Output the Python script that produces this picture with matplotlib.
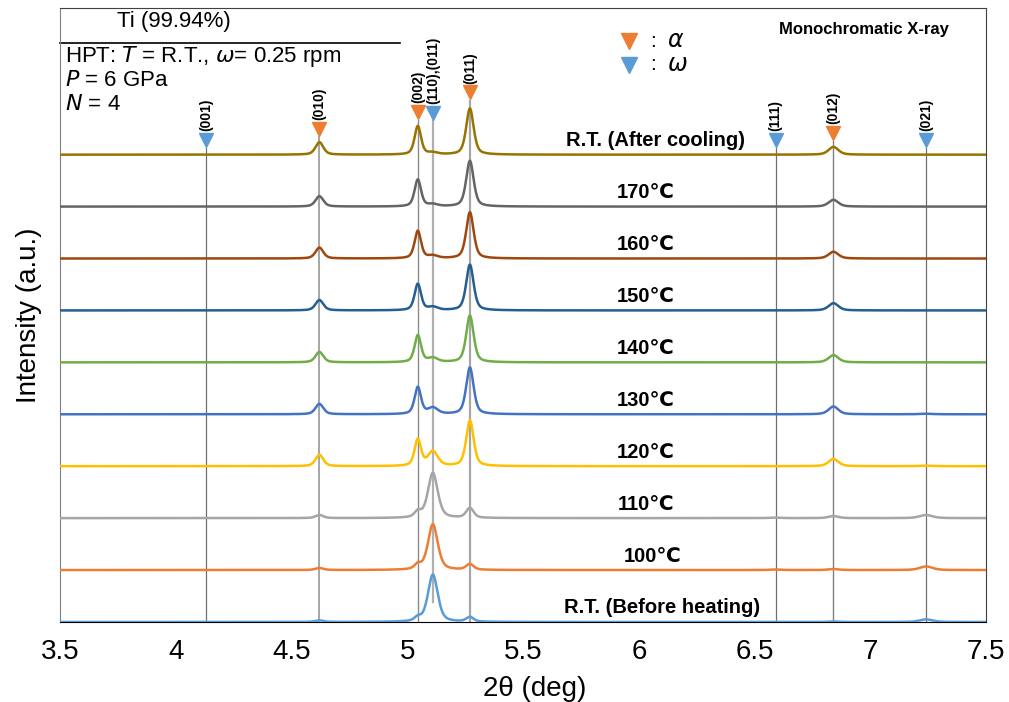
import numpy as np
import matplotlib
matplotlib.use("Agg")
import matplotlib.pyplot as plt

plt.rcParams['font.family'] = ['Liberation Sans', 'DejaVu Sans']

# Reflection positions (2theta, deg)
refl_labels = ["(001)", "(010)", "(002)", "(110),(011)", "(011)", "(111)", "(012)", "(021)"]
refl_pos = [4.13, 4.62, 5.045, 5.11, 5.27, 6.59, 6.84, 7.24]
refl_phase = ["w", "a", "a", "w", "a", "w", "a", "w"]
refl_fwhm = [0.045, 0.04, 0.033, 0.05, 0.038, 0.055, 0.05, 0.065]

# Curves from bottom to top
curve_names = ["R.T. (Before heating)", "100℃", "110℃", "120℃", "130℃",
               "140℃", "150℃", "160℃", "170℃", "R.T. (After cooling)"]
curve_colors = ["#5B9BD5", "#ED7D31", "#A5A5A5", "#FFC000", "#4472C4",
                "#70AD47", "#255E91", "#9E480E", "#646464", "#997300"]

# Peak heights per curve (fraction of curve spacing), same order as refl_pos
h_rt_before = [0, 0.03, 0.07, 0.91, 0.09, 0.0, 0.01, 0.05]
h_100 = [0, 0.04, 0.09, 0.88, 0.11, 0.01, 0.02, 0.07]
h_110 = [0, 0.06, 0.11, 0.87, 0.19, 0.01, 0.04, 0.06]
h_120 = [0, 0.22, 0.51, 0.28, 0.88, 0.0, 0.14, 0.01]
h_130 = [0, 0.20, 0.52, 0.12, 0.90, 0.0, 0.15, 0.01]
h_140 = [0, 0.20, 0.52, 0.08, 0.90, 0.0, 0.14, 0.0]
h_150 = [0, 0.20, 0.51, 0.06, 0.88, 0.0, 0.14, 0.0]
h_160 = [0, 0.21, 0.53, 0.05, 0.89, 0.0, 0.13, 0.0]
h_170 = [0, 0.20, 0.52, 0.04, 0.88, 0.0, 0.13, 0.0]
h_rt_after = [0, 0.24, 0.55, 0.035, 0.89, 0.0, 0.15, 0.0]
heights = [h_rt_before, h_100, h_110, h_120, h_130, h_140, h_150, h_160, h_170, h_rt_after]

# marker (triangle) heights above the plot, in curve-spacing units
marker_y = [9.28, 9.5, 9.83, 9.8, 10.2, 9.28, 9.42, 9.28]


def profile(x, pos, fwhm, h, eta=0.5):
    # pseudo-Voigt peak
    g = np.exp(-4 * np.log(2) * ((x - pos) / fwhm) ** 2)
    l = 1 / (1 + 4 * ((x - pos) / fwhm) ** 2)
    return h * (eta * l + (1 - eta) * g)


x = np.linspace(3.5, 7.5, 4000)

fig = plt.figure(figsize=(10.09, 7.02), dpi=100)
ax = fig.add_axes([0.0595, 0.114, 0.918, 0.875])

# vertical reference lines
line_cols = ["#707070", "#a6a6a6", "#8a8a8a", "#b0b0b0", "#a6a6a6", "#707070", "#808080", "#707070"]
line_lw = [0.9, 1.4, 1.0, 1.6, 1.6, 0.9, 1.0, 0.9]
line_bottom = [0, 0, 0, 0.38, 0, 0, 0, 0]
for p, my, c, lw, yb in zip(refl_pos, marker_y, line_cols, line_lw, line_bottom):
    ax.plot([p, p], [yb, my - 0.16], color=c, lw=lw, zorder=1)

for i, (name, col, h) in enumerate(zip(curve_names, curve_colors, heights)):
    y = np.full_like(x, float(i))
    for p, w, hh in zip(refl_pos, refl_fwhm, h):
        y += profile(x, p, w, hh)
    ax.plot(x, y, color=col, lw=1.8, zorder=3)

# curve labels
lab_x = [6.1, 6.06, 6.03, 6.03, 6.03, 6.03, 6.03, 6.03, 6.03, 6.07]
for i, name in enumerate(curve_names):
    ax.text(lab_x[i], i + 0.27, name, ha="center", va="center",
            fontsize=14.5, fontweight="bold", zorder=4)

# reflection markers and labels
for p, my, lab, ph in zip(refl_pos, marker_y, refl_labels, refl_phase):
    c = "#ED7D31" if ph == "a" else "#5B9BD5"
    ax.plot(p, my, marker="v", color=c, markersize=10, zorder=5, ls="none")
    ax.text(p, my + 0.17, lab, rotation=90, ha="center", va="bottom",
            fontsize=10, fontweight="bold", zorder=5)

# legend
ax.plot(5.956, 11.18, marker="v", color="#ED7D31", markersize=11, ls="none")
ax.plot(5.956, 10.73, marker="v", color="#5B9BD5", markersize=11, ls="none")
ax.text(6.06, 11.18, ":", fontsize=15, va="center", ha="center")
ax.text(6.06, 10.73, ":", fontsize=15, va="center", ha="center")
ax.text(6.12, 11.18, r"$\alpha$", fontsize=17, va="center")
ax.text(6.12, 10.73, r"$\omega$", fontsize=17, va="center")
ax.text(7.34, 11.41, "Monochromatic X-ray", fontsize=12, fontweight="bold",
        ha="right", va="center")

# sample info
ax.text(3.99, 11.56, "Ti (99.94%)", fontsize=16, ha="center", va="center")
ax.plot([3.5, 4.966], [11.16, 11.16], color="black", lw=1.2, clip_on=False)
ax.text(3.52, 10.9, r"HPT: $T$ = R.T., $\omega$= 0.25 rpm", fontsize=16, va="center")
ax.text(3.52, 10.42, r"$P$ = 6 GPa", fontsize=16, va="center")
ax.text(3.52, 9.97, r"$N$ = 4", fontsize=16, va="center")

ax.set_xlim(3.5, 7.5)
ax.set_ylim(0, 11.83)
ax.set_xticks([3.5, 4, 4.5, 5, 5.5, 6, 6.5, 7, 7.5])
ax.set_xticklabels(["3.5", "4", "4.5", "5", "5.5", "6", "6.5", "7", "7.5"])
ax.set_yticks([])
ax.tick_params(axis="x", length=0, labelsize=20, pad=12)
ax.set_xlabel("2θ (deg)", fontsize=20)
ax.xaxis.set_label_coords(0.512, -0.088)
ax.set_ylabel("Intensity (a.u.)", fontsize=20)
ax.yaxis.set_label_coords(-0.019, 0.5)
ax.spines["left"].set_color("#808080")
ax.spines["right"].set_color("#404040")
ax.spines["top"].set_color("#404040")

fig.savefig("out.png", dpi=100)
